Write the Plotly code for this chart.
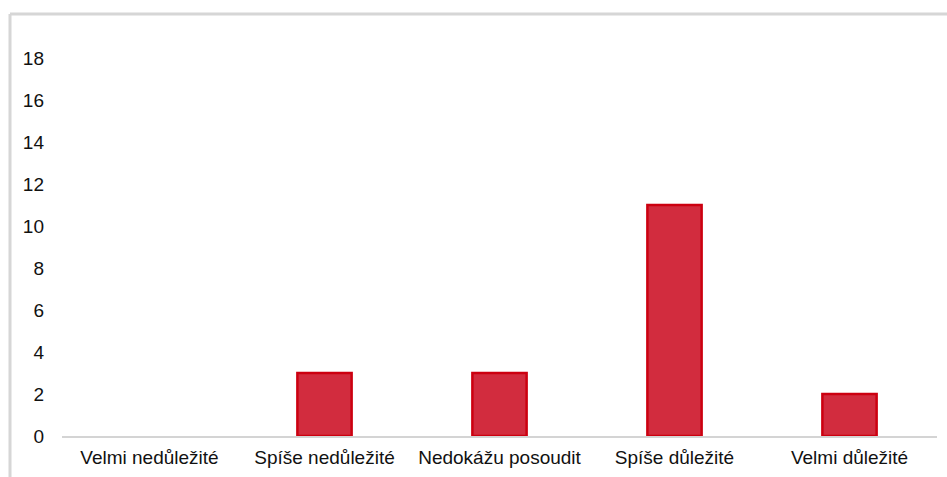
import plotly.graph_objects as go

categories = ["Velmi nedůležité", "Spíše nedůležité", "Nedokážu posoudit", "Spíše důležité", "Velmi důležité"]
counts = [0, 3, 3, 11, 2]
y_ticks = [0, 2, 4, 6, 8, 10, 12, 14, 16, 18]

# no outline on empty categories so nothing is drawn there
outline_widths = [2.5 if v else 0 for v in counts]

fig = go.Figure(
    go.Bar(
        x=categories,
        y=counts,
        marker=dict(color="#D22C3E", line=dict(color="#CC0010", width=outline_widths)),
        width=0.31,
    )
)

W, H = 947, 477
ml, mr, mt, mb = 62, 10, 16, 41

fig.update_layout(
    width=W,
    height=H,
    margin=dict(l=ml, r=mr, t=mt, b=mb),
    paper_bgcolor="white",
    plot_bgcolor="white",
    showlegend=False,
    font=dict(family="Liberation Sans, Arial, sans-serif", size=19, color="#111111"),
    xaxis=dict(
        showgrid=False,
        showline=True,
        linecolor="#D4D4D4",
        linewidth=2,
        ticks="",
        tickfont=dict(size=19),
        ticklabelstandoff=3,
        range=[-0.5, 4.5],
    ),
    yaxis=dict(
        range=[0, 20],
        tickvals=y_ticks,
        showgrid=False,
        zeroline=False,
        showline=False,
        ticks="",
        ticklabelstandoff=17,
        tickfont=dict(size=19),
    ),
)

# outer frame (top and left edges)
pw = W - ml - mr
ph = H - mt - mb
x_left = (10 - ml) / pw
y_top = (ph - (14 - mt)) / ph
fig.add_shape(type="line", xref="paper", yref="paper",
              x0=x_left, x1=1.2, y0=y_top, y1=y_top,
              line=dict(color="#D6D6D6", width=3))
fig.add_shape(type="line", xref="paper", yref="paper",
              x0=x_left, x1=x_left, y0=y_top, y1=-0.3,
              line=dict(color="#D6D6D6", width=3))

fig.write_html("out.html")
